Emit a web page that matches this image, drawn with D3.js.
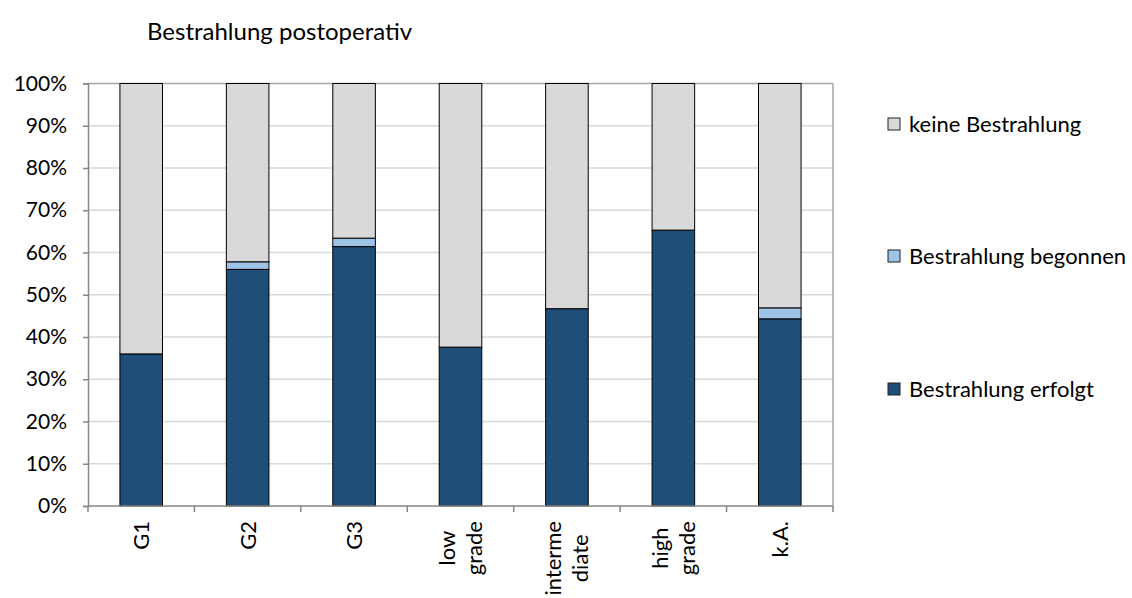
<!DOCTYPE html>
<html>
<head>
<meta charset="utf-8">
<script src="https://cdn.jsdelivr.net/npm/d3@7"></script>
<style>
  html, body { margin: 0; padding: 0; background: #ffffff; }
  svg { display: block; font-family: Lato, "Liberation Sans", sans-serif; }
</style>
</head>
<body>
<svg id="chart" width="1132" height="598"></svg>
<script>
// Categories (line breaks as shown on the axis)
const categories = ["G1", "G2", "G3", "low grade", "intermediate", "high grade", "k.A."];
const categoryLines = [["G1"], ["G2"], ["G3"], ["low", "grade"], ["interme", "diate"], ["high", "grade"], ["k.A."]];

// Shares in percent per category
const erfolgt   = [36.0, 56.0, 61.4, 37.6, 46.7, 65.3, 44.3];
const begonnen  = [0.0,  1.8,  2.0,  0.0,  0.0,  0.0,  2.6];
const keine     = erfolgt.map((v, i) => 100 - v - begonnen[i]);

const seriesNames = ["Bestrahlung erfolgt", "Bestrahlung begonnen", "keine Bestrahlung"];
const seriesColors = ["#1f4e79", "#9dc3e6", "#d9d9d9"];
const yTicks = [0, 10, 20, 30, 40, 50, 60, 70, 80, 90, 100];

const rows = categories.map((c, i) => ({
  cat: c,
  "Bestrahlung erfolgt": erfolgt[i],
  "Bestrahlung begonnen": begonnen[i],
  "keine Bestrahlung": keine[i]
}));

const svg = d3.select("#chart");
const plot = { left: 88, right: 833, top: 83.5, bottom: 506 };

const x = d3.scaleBand().domain(categories).range([plot.left, plot.right])
  .paddingInner(0.6).paddingOuter(0.3);
const y = d3.scaleLinear().domain([0, 100]).range([plot.bottom, plot.top]);
const color = d3.scaleOrdinal().domain(seriesNames).range(seriesColors);

// Title
svg.append("text")
  .attr("x", 147).attr("y", 40)
  .attr("font-size", 24).attr("fill", "#000")
  .text("Bestrahlung postoperativ");

// Horizontal gridlines
svg.append("g").selectAll("line")
  .data(yTicks.filter(t => t > 0 && t < 100))
  .join("line")
  .attr("x1", plot.left).attr("x2", plot.right)
  .attr("y1", d => y(d)).attr("y2", d => y(d))
  .attr("stroke", "#d9d9d9").attr("stroke-width", 1.5);

// Plot frame top and right
svg.append("line").attr("x1", plot.left).attr("x2", plot.right)
  .attr("y1", y(100)).attr("y2", y(100)).attr("stroke", "#a6a6a6").attr("stroke-width", 1.5);
svg.append("line").attr("x1", plot.right).attr("x2", plot.right)
  .attr("y1", y(100)).attr("y2", y(0)).attr("stroke", "#a6a6a6").attr("stroke-width", 1.5);

// Stacked bars
const stack = d3.stack().keys(seriesNames);
const layers = stack(rows);
svg.append("g").selectAll("g")
  .data(layers)
  .join("g")
  .attr("fill", d => color(d.key))
  .selectAll("rect")
  .data(d => d.filter(s => s[1] - s[0] > 0))
  .join("rect")
  .attr("x", d => x(d.data.cat))
  .attr("width", x.bandwidth())
  .attr("y", d => y(d[1]))
  .attr("height", d => y(d[0]) - y(d[1]))
  .attr("stroke", "#000").attr("stroke-width", 1);

// Y axis
const yAxis = d3.axisLeft(y).tickValues(yTicks).tickFormat(d => d + "%").tickSize(5).tickPadding(16);
const gy = svg.append("g").attr("transform", `translate(${plot.left},0)`).call(yAxis);
gy.select(".domain").attr("stroke", "#868686").attr("stroke-width", 1.5);
gy.selectAll(".tick line").attr("stroke", "#868686").attr("stroke-width", 1.5);
gy.selectAll(".tick text").attr("font-size", 21).attr("fill", "#000").attr("font-family", "Lato");

// X axis line with ticks at band boundaries
const gx = svg.append("g");
gx.append("line").attr("x1", plot.left).attr("x2", plot.right)
  .attr("y1", plot.bottom).attr("y2", plot.bottom)
  .attr("stroke", "#868686").attr("stroke-width", 1.5);
const step = x.step();
const bounds = d3.range(categories.length + 1).map(i => plot.left + i * step);
gx.selectAll("line.tk").data(bounds).join("line").attr("class", "tk")
  .attr("x1", d => d).attr("x2", d => d)
  .attr("y1", plot.bottom).attr("y2", plot.bottom + 6)
  .attr("stroke", "#868686").attr("stroke-width", 1.5);

// Rotated category labels, lines centred on the longest line
const labelFont = 22, lineH = 27, labelTop = 521;
categories.forEach((c, i) => {
  const lines = categoryLines[i];
  const cx = x(c) + x.bandwidth() / 2;
  const g = gx.append("g").attr("transform", `translate(${cx},${labelTop}) rotate(-90)`);
  const texts = lines.map((ln, j) => g.append("text")
    .attr("font-size", labelFont).attr("fill", "#000")
    .attr("text-anchor", "middle")
    .attr("y", (j - (lines.length - 1) / 2) * lineH)
    .attr("dy", "0.36em")
    .text(ln));
  const maxW = d3.max(texts, t => t.node().getComputedTextLength());
  texts.forEach(t => t.attr("x", -maxW / 2));
});

// Legend (top entry is the top series)
const legendRows = [
  { name: "keine Bestrahlung", cy: 124 },
  { name: "Bestrahlung begonnen", cy: 256 },
  { name: "Bestrahlung erfolgt", cy: 389 }
];
const lg = svg.append("g");
legendRows.forEach(r => {
  lg.append("rect").attr("x", 888).attr("y", r.cy - 6).attr("width", 12).attr("height", 12)
    .attr("fill", color(r.name)).attr("stroke", "#222").attr("stroke-width", 1);
  lg.append("text").attr("x", 909).attr("y", r.cy).attr("dy", "0.36em")
    .attr("font-size", 22).attr("fill", "#000").text(r.name);
});
</script>
</body>
</html>
